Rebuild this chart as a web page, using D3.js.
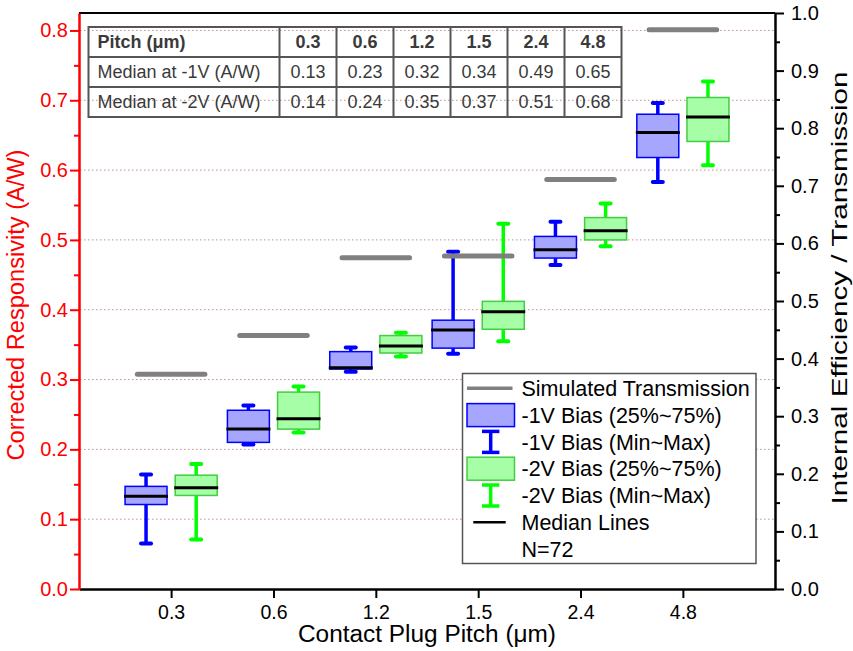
<!DOCTYPE html>
<html>
<head>
<meta charset="utf-8">
<script src="https://cdn.jsdelivr.net/npm/d3@7"></script>
<style>
  body { margin: 0; background: #fff; }
  svg { display: block; font-family: Arial, "Liberation Sans", sans-serif; }
</style>
</head>
<body>
<script>
// categories
const pitches = ['0.3', '0.6', '1.2', '1.5', '2.4', '4.8'];

// simulated transmission (right axis)
const transmission = [0.373, 0.440, 0.575, 0.578, 0.711, 0.971];

// -1V bias box stats (A/W)
const minus1Min = [0.065, 0.207, 0.311, 0.337, 0.464, 0.583];
const minus1Q1  = [0.121, 0.210, 0.315, 0.345, 0.474, 0.618];
const minus1Med = [0.133, 0.229, 0.317, 0.371, 0.486, 0.654];
const minus1Q3  = [0.147, 0.256, 0.340, 0.385, 0.505, 0.680];
const minus1Max = [0.164, 0.263, 0.346, 0.483, 0.526, 0.696];

// -2V bias box stats (A/W)
const minus2Min = [0.071, 0.224, 0.333, 0.355, 0.491, 0.607];
const minus2Q1  = [0.134, 0.229, 0.338, 0.372, 0.500, 0.641];
const minus2Med = [0.145, 0.244, 0.348, 0.397, 0.513, 0.676];
const minus2Q3  = [0.163, 0.282, 0.363, 0.412, 0.532, 0.704];
const minus2Max = [0.179, 0.290, 0.367, 0.523, 0.552, 0.727];

// table text
const tableMed1 = ['0.13', '0.23', '0.32', '0.34', '0.49', '0.65'];
const tableMed2 = ['0.14', '0.24', '0.35', '0.37', '0.51', '0.68'];

const leftTicks = [0, 1, 2, 3, 4, 5, 6, 7, 8].map(d => d / 10);
const rightTicks = [0, 1, 2, 3, 4, 5, 6, 7, 8, 9, 10].map(d => d / 10);

const w = 853, h = 651;
const L = 79, R = 775, T = 13, B = 589;

const svg = d3.select('body').append('svg')
  .attr('width', w)
  .attr('height', h);

const x = d3.scalePoint().domain(pitches).range([L, R]).padding(0.9);
const y = d3.scaleLinear().domain([0, 0.825]).range([B, T]);
const y2 = d3.scaleLinear().domain([0, 1]).range([B, T]);
const step = x.step();

// dotted grid
svg.append('g')
  .selectAll('line')
  .data(leftTicks.slice(1))
  .enter()
  .append('line')
  .attr('x1', L + 1).attr('x2', R - 1)
  .attr('y1', d => y(d)).attr('y2', d => y(d))
  .attr('stroke', '#c09090')
  .attr('stroke-width', 1)
  .attr('stroke-dasharray', '1.5,2.5')

// table
const colX = [88.5, 279.5];
const cw = 57, rh = 30, tTop = 27;
const tRight = colX[1] + cw * pitches.length;
const rows = [['Pitch (μm)'].concat(pitches), ['Median at -1V (A/W)'].concat(tableMed1), ['Median at -2V (A/W)'].concat(tableMed2)];
const table = svg.append('g').attr('id', 'table');
table.append('rect')
  .attr('x', colX[0]).attr('y', tTop)
  .attr('width', tRight - colX[0]).attr('height', rh * 3)
  .attr('fill', 'none').attr('stroke', '#555').attr('stroke-width', 2)
for (let r = 1; r < 3; r++) {
  table.append('line')
    .attr('x1', colX[0]).attr('x2', tRight)
    .attr('y1', tTop + r * rh).attr('y2', tTop + r * rh)
    .attr('stroke', '#555').attr('stroke-width', 2)
}
for (let c = 0; c < pitches.length; c++) {
  table.append('line')
    .attr('x1', colX[1] + c * cw).attr('x2', colX[1] + c * cw)
    .attr('y1', tTop).attr('y2', tTop + rh * 3)
    .attr('stroke', '#555').attr('stroke-width', 2)
}
rows.forEach((row, r) => {
  row.forEach((txt, c) => {
    table.append('text')
      .attr('x', c === 0 ? colX[0] + 9 : colX[1] + (c - 0.5) * cw)
      .attr('y', tTop + r * rh + rh / 2)
      .attr('dy', '0.36em')
      .attr('text-anchor', c === 0 ? 'start' : 'middle')
      .attr('font-size', 18)
      .attr('font-weight', r === 0 ? 'bold' : 'normal')
      .attr('fill', '#3a3a3a')
      .text(txt)
  })
})

// box plots
const series = [
  { off: -0.245, line: '#0000ff', edge: '#0000ff', fill: '#a6a6ff', min: minus1Min, q1: minus1Q1, med: minus1Med, q3: minus1Q3, max: minus1Max },
  { off: 0.245, line: '#00ff00', edge: '#44cc44', fill: '#a6ffa6', min: minus2Min, q1: minus2Q1, med: minus2Med, q3: minus2Q3, max: minus2Max }
];
const bw = 0.41 * step;

series.forEach(s => {
  const g = svg.append('g');
  pitches.forEach((p, i) => {
    const cx = x(p) + s.off * step;
    // whiskers
    g.append('line')
      .attr('x1', cx).attr('x2', cx)
      .attr('y1', y(s.max[i])).attr('y2', y(s.q3[i]))
      .attr('stroke', s.line).attr('stroke-width', 3.5)
    g.append('line')
      .attr('x1', cx).attr('x2', cx)
      .attr('y1', y(s.q1[i])).attr('y2', y(s.min[i]))
      .attr('stroke', s.line).attr('stroke-width', 3.5)
    ;[s.min[i], s.max[i]].forEach(v => {
      g.append('line')
        .attr('x1', cx - 5).attr('x2', cx + 5)
        .attr('y1', y(v)).attr('y2', y(v))
        .attr('stroke', s.line).attr('stroke-width', 4)
        .attr('stroke-linecap', 'round')
    })
    g.append('rect')
      .attr('x', cx - bw / 2).attr('width', bw)
      .attr('y', y(s.q3[i])).attr('height', y(s.q1[i]) - y(s.q3[i]))
      .attr('fill', s.fill).attr('stroke', s.edge).attr('stroke-width', 1.5)
    g.append('line')
      .attr('x1', cx - bw / 2 - 1).attr('x2', cx + bw / 2 + 1)
      .attr('y1', y(s.med[i])).attr('y2', y(s.med[i]))
      .attr('stroke', '#000').attr('stroke-width', 3)
  })
});

// simulated transmission bars
svg.append('g')
  .selectAll('line')
  .data(transmission)
  .enter()
  .append('line')
  .attr('x1', (d, i) => x(pitches[i]) - 0.33 * step)
  .attr('x2', (d, i) => x(pitches[i]) + 0.33 * step)
  .attr('y1', d => y2(d)).attr('y2', d => y2(d))
  .attr('stroke', '#808080').attr('stroke-width', 5)
  .attr('stroke-linecap', 'round')

// axes
svg.append('line')
  .attr('x1', L).attr('x2', R).attr('y1', T).attr('y2', T)
  .attr('stroke', '#000').attr('stroke-width', 2)

const xAxis = svg.append('g')
  .attr('transform', `translate(0,${B})`)
  .call(d3.axisBottom(x).tickSize(9).tickPadding(7).tickSizeOuter(0))
xAxis.select('.domain').attr('stroke-width', 2.5)
xAxis.selectAll('.tick line').attr('stroke-width', 2)
xAxis.selectAll('text').attr('font-size', 19.5).attr('fill', '#000')

const minorL = leftTicks.slice(0, -1).map(d => d + 0.05);
svg.append('g')
  .attr('transform', `translate(${L},0)`)
  .call(d3.axisLeft(y).tickValues(minorL).tickSize(5).tickFormat('').tickSizeOuter(0))
  .call(g => g.select('.domain').remove())
  .selectAll('line').attr('stroke', '#ff0000').attr('stroke-width', 2)
const yAxis = svg.append('g')
  .attr('transform', `translate(${L},0)`)
  .call(d3.axisLeft(y).tickValues(leftTicks).tickSize(9).tickPadding(2).tickFormat(d3.format('.1f')).tickSizeOuter(0))
yAxis.select('.domain').attr('stroke', '#ff0000').attr('stroke-width', 2.5)
yAxis.selectAll('.tick line').attr('stroke', '#ff0000').attr('stroke-width', 2)
yAxis.selectAll('text').attr('font-size', 20).attr('fill', '#ff0000')

const minorR = rightTicks.slice(0, -1).map(d => d + 0.05);
svg.append('g')
  .attr('transform', `translate(${R},0)`)
  .call(d3.axisRight(y2).tickValues(minorR).tickSize(5).tickFormat('').tickSizeOuter(0))
  .call(g => g.select('.domain').remove())
  .selectAll('line').attr('stroke-width', 2)
const y2Axis = svg.append('g')
  .attr('transform', `translate(${R},0)`)
  .call(d3.axisRight(y2).tickValues(rightTicks).tickSize(9).tickPadding(7).tickFormat(d3.format('.1f')).tickSizeOuter(0))
y2Axis.select('.domain').attr('stroke-width', 2.5)
y2Axis.selectAll('.tick line').attr('stroke-width', 2)
y2Axis.selectAll('text').attr('font-size', 20).attr('fill', '#000')

// axis titles
svg.append('text')
  .attr('x', (L + R) / 2).attr('y', 642)
  .attr('text-anchor', 'middle').attr('font-size', 23)
  .attr('textLength', 258).attr('lengthAdjust', 'spacingAndGlyphs')
  .text('Contact Plug Pitch (μm)')
svg.append('text')
  .attr('transform', 'translate(24,305) rotate(-90)')
  .attr('text-anchor', 'middle').attr('font-size', 23).attr('fill', '#ff0000')
  .attr('textLength', 311).attr('lengthAdjust', 'spacingAndGlyphs')
  .text('Corrected Responsivity (A/W)')
svg.append('text')
  .attr('transform', 'translate(847,288) rotate(-90)')
  .attr('text-anchor', 'middle').attr('font-size', 22)
  .attr('textLength', 433).attr('lengthAdjust', 'spacingAndGlyphs')
  .text('Internal Efficiency / Transmission')

// legend
const lg = svg.append('g').attr('id', 'legend');
lg.append('rect')
  .attr('x', 462.5).attr('y', 373.5).attr('width', 293.5).attr('height', 190)
  .attr('fill', '#fff').attr('stroke', '#555').attr('stroke-width', 1.5)
const legendLabels = ['Simulated Transmission', '-1V Bias (25%~75%)', '-1V Bias (Min~Max)', '-2V Bias (25%~75%)', '-2V Bias (Min~Max)', 'Median Lines', 'N=72'];
const rowY = i => 388.3 + i * 26.8;
lg.selectAll('text')
  .data(legendLabels)
  .enter()
  .append('text')
  .attr('x', 521.5)
  .attr('y', (d, i) => rowY(i))
  .attr('dy', '0.36em')
  .attr('font-size', 21.5)
  .text(d => d)
lg.append('line')
  .attr('x1', 467).attr('x2', 512.5).attr('y1', rowY(0)).attr('y2', rowY(0))
  .attr('stroke', '#808080').attr('stroke-width', 3.5)
series.forEach((s, k) => {
  const r = 1 + k * 2;
  lg.append('rect')
    .attr('x', 467).attr('y', rowY(r) - 11.5).attr('width', 47.5).attr('height', 23)
    .attr('fill', s.fill).attr('stroke', s.edge).attr('stroke-width', 1.5)
  const cy = rowY(r + 1);
  lg.append('line')
    .attr('x1', 490.7).attr('x2', 490.7).attr('y1', cy - 10.5).attr('y2', cy + 10.5)
    .attr('stroke', s.line).attr('stroke-width', 3.5)
  ;[-10.5, 10.5].forEach(dy => {
    lg.append('line')
      .attr('x1', 482).attr('x2', 499.4).attr('y1', cy + dy).attr('y2', cy + dy)
      .attr('stroke', s.line).attr('stroke-width', 3.5)
  })
})
lg.append('line')
  .attr('x1', 473.3).attr('x2', 505.7).attr('y1', rowY(5)).attr('y2', rowY(5))
  .attr('stroke', '#000').attr('stroke-width', 2.5)
</script>
</body>
</html>
